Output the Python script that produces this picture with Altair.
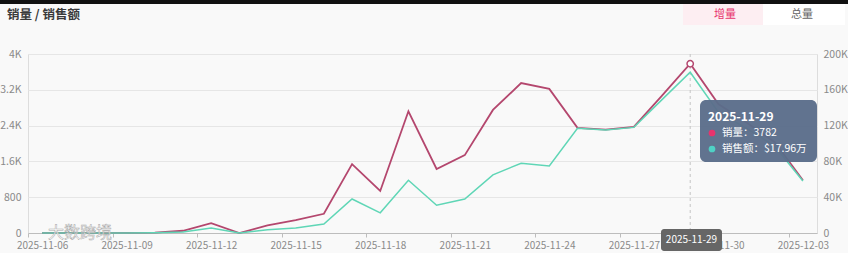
import altair as alt
import pandas as pd

# ---------------- data ----------------
dates = [
    "2025-11-06", "2025-11-07", "2025-11-08", "2025-11-09", "2025-11-10",
    "2025-11-11", "2025-11-12", "2025-11-13", "2025-11-14", "2025-11-15",
    "2025-11-16", "2025-11-17", "2025-11-18", "2025-11-19", "2025-11-20",
    "2025-11-21", "2025-11-22", "2025-11-23", "2025-11-24", "2025-11-25",
    "2025-11-26", "2025-11-27", "2025-11-28", "2025-11-29", "2025-11-30",
    "2025-12-01", "2025-12-02", "2025-12-03",
]
sales = [
    0, 0, 0, 0, 10,
    50, 220, 0, 170, 290,
    430, 1540, 940, 2720, 1430,
    1740, 2750, 3350, 3220, 2350,
    2310, 2370, 3070, 3782, 2880,
    2470, 2030, 1180,
]
revenue = [
    0, 0, 0, 0, 300,
    1000, 5600, 0, 3500, 5600,
    10000, 38000, 22500, 59000, 31000,
    38000, 65000, 78000, 75000, 117000,
    115000, 118000, 149000, 179600, 135000,
    117000, 97000, 58000,
]
label_dates = ["2025-11-06", "2025-11-09", "2025-11-12", "2025-11-15", "2025-11-18",
               "2025-11-21", "2025-11-24", "2025-11-27", "2025-11-30", "2025-12-03"]
left_ticks = [0, 800, 1600, 2400, 3200, 4000]
right_ticks = [0, 40000, 80000, 120000, 160000, 200000]

title_text = "销量 / 销售额"
btn_active = "增量"
btn_other = "总量"
hover_date = "2025-11-29"
hover_sales = 3782
hover_revenue = "$17.96万"
watermark = "大数跨境"

df = pd.DataFrame({"date": dates, "sales": sales, "revenue": revenue})
hover_df = df[df["date"] == hover_date]
one = pd.DataFrame({"k": [0]})

# ---------------- style ----------------
W, H = 789, 179
FONT = "Noto Sans CJK SC"
RED = "#b4476e"
TEAL = "#5fd6b6"
PINK = "#e8336d"
DOT_TEAL = "#4fd1c5"
LABEL = "#8a8a8a"

xscale = alt.Scale(type="point", domain=dates, padding=0.5)
x_axis = alt.Axis(values=label_dates, labelAngle=0, title=None, tickOffset=-14, labelOffset=14,
                  tickSize=4, tickColor="#bdbdbd", domainColor="#bdbdbd",
                  labelColor=LABEL, labelFontSize=10, labelPadding=3, grid=False,
                  labelFont=FONT)
x_enc = alt.X("date:O", scale=xscale, axis=x_axis)

yl_scale = alt.Scale(domain=[0, 4000], nice=False, zero=True)
yr_scale = alt.Scale(domain=[0, 200000], nice=False, zero=True)

# pointer rule
rule = alt.Chart(hover_df).mark_rule(color="#c4c4c4", strokeDash=[3, 3], strokeWidth=1).encode(
    x=x_enc, y=alt.value(0), y2=alt.value(H)
)

red_line = alt.Chart(df).mark_line(color=RED, strokeWidth=1.8).encode(
    x=x_enc,
    y=alt.Y("sales:Q", scale=yl_scale,
            axis=alt.Axis(values=left_ticks, title=None, grid=True, gridColor="#e6e6e6",
                          domain=False, ticks=False, labelColor=LABEL, labelFontSize=10.5,
                          labelPadding=7, labelFont=FONT,
                          labelExpr="datum.value >= 1000 ? (datum.value / 1000) + 'K' : datum.value")),
)

teal_line = alt.Chart(df).mark_line(color=TEAL, strokeWidth=1.5).encode(
    x=x_enc,
    y=alt.Y("revenue:Q", scale=yr_scale,
            axis=alt.Axis(orient="right", values=right_ticks, title=None, grid=False,
                          domain=False, ticks=False, labelColor=LABEL, labelFontSize=10.5,
                          labelPadding=6, labelFont=FONT,
                          labelExpr="datum.value >= 1000 ? (datum.value / 1000) + 'K' : datum.value")),
)

red_pt = alt.Chart(hover_df).mark_point(filled=True, fill="white", stroke=RED, strokeWidth=1.5,
                                         size=40, opacity=1).encode(
    x=x_enc, y=alt.Y("sales:Q", scale=yl_scale, axis=None)
)


def rect(x, x2, y, y2, fill, radius=0, opacity=1.0):
    return alt.Chart(one).mark_rect(fill=fill, cornerRadius=radius, opacity=opacity).encode(
        x=alt.value(x), x2=alt.value(x2), y=alt.value(y), y2=alt.value(y2))


def txt(x, y, s, size=11, color="#333", weight="normal", align="left", **kw):
    return alt.Chart(one).mark_text(align=align, baseline="middle", fontSize=size, color=color,
                                    fontWeight=weight, font=FONT, **kw).encode(
        x=alt.value(x), y=alt.value(y), text=alt.value(s))


def dot(x, y, color):
    return alt.Chart(one).mark_point(filled=True, color=color, size=45, opacity=1).encode(
        x=alt.value(x), y=alt.value(y))


overlay = [
    rect(-28, 820, -54, -50, "#111111"),
    txt(-21, -39, title_text, size=12.5, color="#3a3a3a", weight="bold"),
    rect(655, 735, -50, -29, "#fdeef2"),
    rect(735, 817, -50, -29, "#ffffff"),
    txt(697, -39, btn_active, size=11, color=PINK, align="center"),
    txt(774, -39, btn_other, size=11, color="#666666", align="center"),
    # tooltip
    rect(672, 789, 46, 108, "#5b6d8a", radius=6, opacity=0.96),
    txt(680, 63, hover_date, size=12, color="white", weight="bold"),
    dot(684, 79, PINK),
    txt(694, 79, f"销量：{hover_sales}", size=10.5, color="white"),
    dot(684, 95, DOT_TEAL),
    txt(694, 95, f"销售额：{hover_revenue}", size=10.5, color="white"),
    # axis pointer label
    rect(633, 694, 175, 197, "#666666", radius=3),
    txt(663.5, 186, hover_date, size=10, color="white", align="center"),
    # watermark
    txt(52, 179, watermark, size=16, color="white", align="center", stroke="#999999",
        strokeWidth=0.5, opacity=0.85),
]

chart = alt.layer(rule, red_line, teal_line, red_pt, *overlay).resolve_scale(
    y="independent"
).properties(
    width=W, height=H,
    autosize=alt.AutoSizeParams(type="none"),
    padding={"left": 28, "top": 54, "right": 31, "bottom": 20},
    background="#f9f9f9",
).configure_view(stroke=None).configure(font=FONT)

chart.save("out.html", embed_options={"renderer": "svg", "actions": False})
